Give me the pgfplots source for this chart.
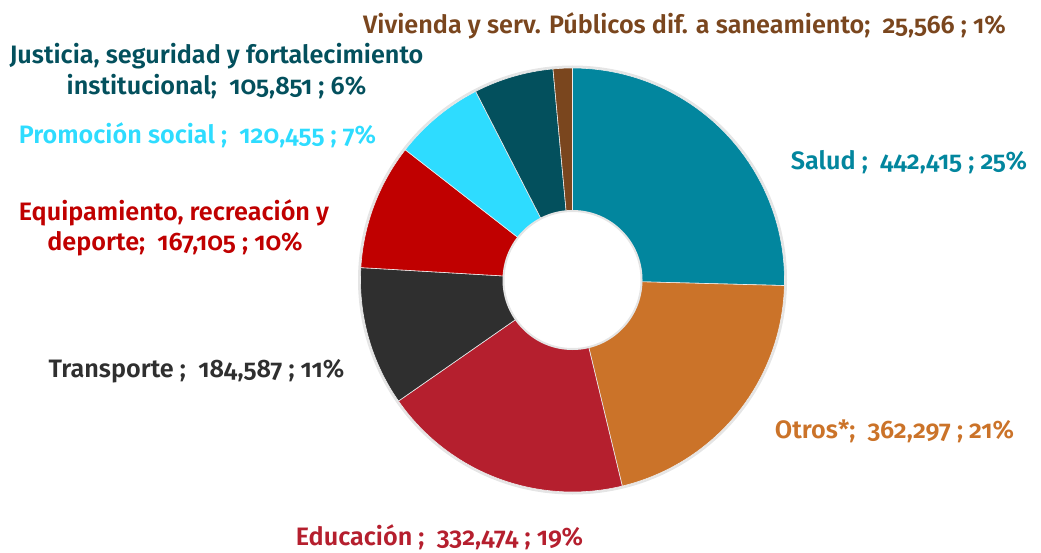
\documentclass[border=0pt]{standalone}
\usepackage{pgfplots}
\pgfplotsset{compat=1.18}
\usepackage{pgfplotstable}
\usepackage{fontspec}
\setmainfont{Fira Sans}[Numbers=OldStyle, BoldFont={Fira Sans SemiBold}]

\definecolor{c0}{HTML}{02869E}
\definecolor{c1}{HTML}{CB7329}
\definecolor{c2}{HTML}{B51F2E}
\definecolor{c3}{HTML}{2F2F2F}
\definecolor{c4}{HTML}{C00000}
\definecolor{c5}{HTML}{2EDCFF}
\definecolor{c6}{HTML}{03505D}
\definecolor{c7}{HTML}{7A461E}

% Salud, Otros*, Educacion, Transporte, Equipamiento, Promocion social, Justicia, Vivienda
\pgfplotstableread{
value
442415
362297
332474
184587
167105
120455
105851
25566
}\budget

\gdef\total{0}
\foreach \i in {0,...,7}{%
  \pgfplotstablegetelem{\i}{value}\of\budget
  \xdef\total{\fpeval{\total+\pgfplotsretval}}%
}
\gdef\cum{0}
\foreach \i in {0,...,7}{%
  \pgfplotstablegetelem{\i}{value}\of\budget
  \expandafter\xdef\csname sa\i\endcsname{\fpeval{round(360*\cum/\total,4)}}%
  \xdef\cum{\fpeval{\cum+\pgfplotsretval}}%
  \expandafter\xdef\csname ea\i\endcsname{\fpeval{round(360*\cum/\total,4)}}%
}

\newcommand\lbl{\fontsize{25.3}{30}\selectfont\bfseries}

\begin{document}
\begin{tikzpicture}
\begin{axis}[
  scale only axis, width=1041bp, height=550bp,
  xmin=0, xmax=1041, ymin=0, ymax=550, y dir=reverse,
  hide axis, clip=false]
\path (axis cs:0,0) rectangle (axis cs:1041,550);
\pgfplotsinvokeforeach{0,...,7}{
  \addplot[draw=white!85!gray, line width=0.6bp, fill=c#1,
    domain=\csname sa#1\endcsname:\csname ea#1\endcsname, samples=90, variable=\t]
    ({572.5+212*sin(\t)},{280-212*cos(\t)}) -- (axis cs:572.5,280) -- cycle;
}
\draw[black, opacity=0.10, line width=2bp] (axis cs:572.5,280) circle[radius=213.5bp];
\fill[white] (axis cs:572.5,280) circle[radius=70bp];
\draw[black, opacity=0.10, line width=2bp] (axis cs:572.5,280) circle[radius=69bp];

\node[anchor=base, text=c7, font=\lbl] at (axis cs:684.5,33) {Vivienda y serv. Públicos dif. a saneamiento;~~25,566 ; 1\%};
\node[anchor=base, text=c6, font=\lbl] at (axis cs:216.5,63) {Justicia, seguridad y fortalecimiento};
\node[anchor=base, text=c6, font=\lbl] at (axis cs:216.5,94) {institucional;~~105,851 ; 6\%};
\node[anchor=base, text=c5, font=\lbl] at (axis cs:197.5,143) {Promoción social ;~~120,455 ; 7\%};
\node[anchor=base, text=c4, font=\lbl] at (axis cs:174,220) {Equipamiento, recreación y};
\node[anchor=base, text=c4, font=\lbl] at (axis cs:175,250) {deporte;~~167,105 ; 10\%};
\node[anchor=base, text=c3, font=\lbl] at (axis cs:196.5,377) {Transporte ;~~184,587 ; 11\%};
\node[anchor=base, text=c0, font=\lbl] at (axis cs:909,169) {Salud ;~~442,415 ; 25\%};
\node[anchor=base, text=c1, font=\lbl] at (axis cs:894.5,438) {Otros*;~~362,297 ; 21\%};
\node[anchor=base, text=c2, font=\lbl] at (axis cs:439.5,545) {Educación ;~~332,474 ; 19\%};
\end{axis}
\end{tikzpicture}
\end{document}
